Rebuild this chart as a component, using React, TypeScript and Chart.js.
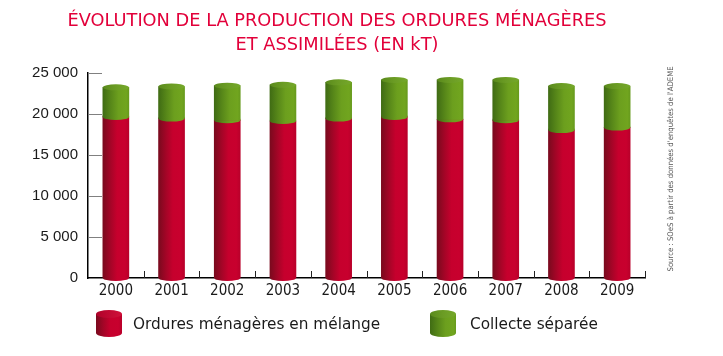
import React, { useEffect, useRef } from 'react';
import { Chart, registerables } from 'chart.js';

Chart.register(...registerables);

const years = ['2000', '2001', '2002', '2003', '2004', '2005', '2006', '2007', '2008', '2009'];
const mixedWaste = [19600, 19400, 19200, 19100, 19400, 19600, 19300, 19200, 18000, 18300];
const separateCollection = [3600, 3900, 4200, 4400, 4400, 4500, 4800, 4900, 5350, 5050];
const yTicks = [0, 5000, 10000, 15000, 20000, 25000];
const titleLines = ['ÉVOLUTION DE LA PRODUCTION DES ORDURES MÉNAGÈRES', 'ET ASSIMILÉES (EN kT)'];
const legendLabels = ['Ordures ménagères en mélange', 'Collecte séparée'];
const sourceText = "Source : SOeS à partir des données d'enquêtes de l'ADEME";

const COND_FONT = "'DejaVu Sans Condensed', sans-serif";
const SANS_FONT = "'DejaVu Sans', sans-serif";
const ARIAL_FONT = "'Liberation Sans', Arial, sans-serif";

const RED_STOPS: [number, string][] = [
  [0, '#7a0a1e'], [0.3, '#a50527'], [0.55, '#c6002d'], [0.85, '#c8002e'], [1, '#b9002a'],
];
const GREEN_STOPS: [number, string][] = [
  [0, '#406c14'], [0.3, '#578719'], [0.6, '#6c9f1e'], [0.9, '#71a51f'], [1, '#679a1d'],
];
const GREEN_TOP_STOPS: [number, string][] = [
  [0, '#5a8a1c'], [0.5, '#6b9c24'], [1, '#75a82a'],
];
const RED_TOP_STOPS: [number, string][] = [
  [0, '#b0022a'], [1, '#d0103a'],
];
const STOPS = [RED_STOPS, GREEN_STOPS];
const TOP_STOPS = [RED_TOP_STOPS, GREEN_TOP_STOPS];
const RY = 3;

function grad(ctx: CanvasRenderingContext2D, cx: number, rx: number, stops: [number, string][]) {
  const g = ctx.createLinearGradient(cx - rx, 0, cx + rx, 0);
  stops.forEach(([o, c]) => g.addColorStop(o, c));
  return g;
}

function drawCylinder(ctx: CanvasRenderingContext2D, cx: number, top: number, bottom: number, rx: number, ry: number, di: number) {
  ctx.fillStyle = grad(ctx, cx, rx, STOPS[di]);
  ctx.fillRect(cx - rx, top, rx * 2, bottom - top);
  ctx.beginPath();
  ctx.ellipse(cx, bottom, rx, ry, 0, 0, Math.PI);
  ctx.fill();
  ctx.fillStyle = grad(ctx, cx, rx, TOP_STOPS[di]);
  ctx.beginPath();
  ctx.ellipse(cx, top, rx, ry, 0, 0, Math.PI * 2);
  ctx.fill();
}

const decoPlugin = {
  id: 'deco',
  beforeDatasetsDraw(chart: any) {
    const { ctx, chartArea, scales } = chart;
    const ys = scales.y;
    const xs = scales.x;
    ctx.save();
    ctx.strokeStyle = '#808080';
    ctx.lineWidth = 1;
    yTicks.forEach((v) => {
      if (v === 0) return;
      const py = Math.round(ys.getPixelForValue(v)) + 0.5;
      ctx.beginPath();
      ctx.moveTo(chartArea.left, py);
      ctx.lineTo(chartArea.left + 14, py);
      ctx.stroke();
    });
    ctx.strokeStyle = '#222';
    for (let i = 1; i <= years.length; i++) {
      const px = Math.round(xs.getPixelForValue(i - 0.5)) + 0.5;
      ctx.beginPath();
      ctx.moveTo(px, chartArea.bottom);
      ctx.lineTo(px, chartArea.bottom - 7);
      ctx.stroke();
    }
    ctx.restore();
  },
  afterDatasetsDraw(chart: any) {
    const { ctx } = chart;
    const n = chart.data.datasets.length;
    ctx.save();
    for (let di = 0; di < n; di++) {
      const meta = chart.getDatasetMeta(di);
      meta.data.forEach((bar: any) => {
        const { x, y, base, width } = bar.getProps(['x', 'y', 'base', 'width'], true);
        const rx = width / 2;
        ctx.fillStyle = grad(ctx, x, rx, STOPS[di]);
        if (di > 0) ctx.fillRect(x - rx, base - 1.5, rx * 2, 2);
        ctx.beginPath();
        ctx.ellipse(x, base, rx, RY, 0, 0, Math.PI);
        ctx.fill();
        if (di === n - 1) {
          ctx.fillStyle = grad(ctx, x, rx, TOP_STOPS[di]);
          ctx.beginPath();
          ctx.ellipse(x, y, rx, RY, 0, 0, Math.PI * 2);
          ctx.fill();
        }
      });
    }
    ctx.restore();
  },
  afterDraw(chart: any) {
    const { ctx } = chart;
    ctx.save();
    // title
    ctx.fillStyle = '#e2003a';
    ctx.font = `17.8px ${SANS_FONT}`;
    ctx.textAlign = 'center';
    ctx.textBaseline = 'middle';
    titleLines.forEach((line, i) => ctx.fillText(line, 337, 21 + i * 24));
    // legend
    const items = [
      { cx: 109, tx: 133 },
      { cx: 443, tx: 470 },
    ];
    items.forEach((it, di) => {
      drawCylinder(ctx, it.cx, 314, 333, 13, 4, di);
      ctx.fillStyle = '#1a1a1a';
      ctx.font = `15.3px ${SANS_FONT}`;
      ctx.textBaseline = 'middle';
      ctx.textAlign = 'left';
      ctx.fillText(legendLabels[di], it.tx, 325);
    });
    // source
    ctx.translate(671, 169);
    ctx.rotate(-Math.PI / 2);
    ctx.fillStyle = '#555';
    ctx.font = `7.7px ${COND_FONT}`;
    ctx.textAlign = 'center';
    ctx.textBaseline = 'middle';
    ctx.fillText(sourceText, 0, 0);
    ctx.restore();
  },
};

export default function App() {
  const ref = useRef<HTMLCanvasElement | null>(null);
  useEffect(() => {
    document.body.style.margin = '0';
    const canvas = ref.current;
    if (!canvas) return;
    const makeBg = (di: number) => (c: any) => {
      const chart = c.chart;
      if (!chart.chartArea || !chart.scales.x) return STOPS[di][2][1];
      const x = chart.scales.x.getPixelForValue(c.dataIndex);
      return grad(chart.ctx, x, 13, STOPS[di]);
    };
    const chart = new Chart(canvas, {
      type: 'bar',
      data: {
        labels: years,
        datasets: [
          { label: legendLabels[0], data: mixedWaste, backgroundColor: makeBg(0), borderWidth: 0, barThickness: 26 },
          { label: legendLabels[1], data: separateCollection, backgroundColor: makeBg(1), borderWidth: 0, barThickness: 26 },
        ],
      },
      options: {
        animation: false,
        responsive: true,
        maintainAspectRatio: false,
        layout: { padding: { left: 0, right: 78, top: 72.5, bottom: 56 } },
        plugins: {
          legend: { display: false },
          tooltip: { enabled: false },
          title: { display: false },
        },
        scales: {
          x: {
            stacked: true,
            grid: { display: false, drawTicks: false },
            border: { display: true, color: '#000', width: 1.5 },
            ticks: { color: '#1a1a1a', font: { family: COND_FONT, size: 15 }, padding: 4 },
            afterFit: (s: any) => { s.height = 22; },
          },
          y: {
            stacked: true,
            min: 0,
            max: 25000,
            grid: { display: false, drawTicks: false },
            border: { display: true, color: '#000', width: 1.5 },
            ticks: {
              stepSize: 5000,
              color: '#1a1a1a',
              font: { family: ARIAL_FONT, size: 15 },
              padding: 10,
              callback: (v: any) => String(v).replace(/\B(?=(\d{3})+(?!\d))/g, ' '),
            },
            afterFit: (s: any) => { s.width = 88; },
          },
        },
      },
      plugins: [decoPlugin],
    });
    return () => chart.destroy();
  }, []);
  return (
    <div style={{ position: 'relative', width: 723, height: 356 }}>
      <canvas ref={ref} />
    </div>
  );
}
